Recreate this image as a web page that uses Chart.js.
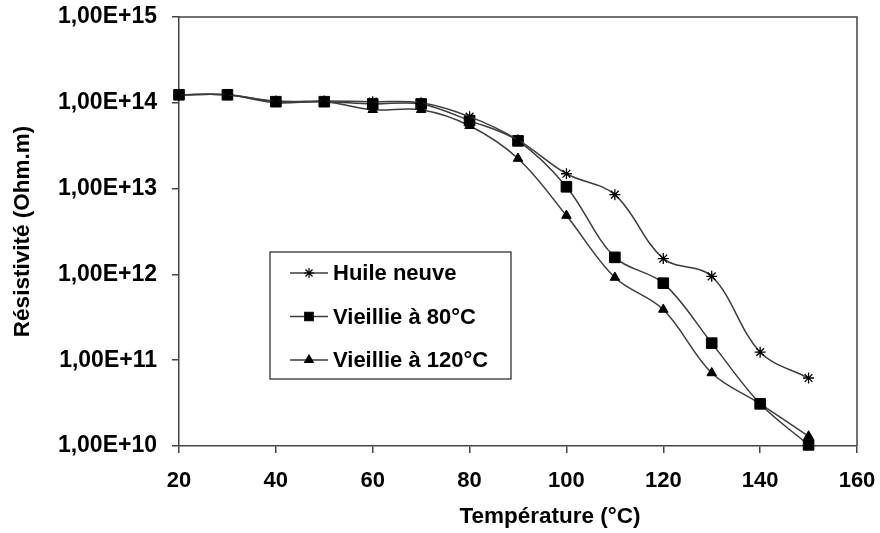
<!DOCTYPE html>
<html>
<head>
<meta charset="utf-8">
<script src="https://cdn.jsdelivr.net/npm/chart.js@4/dist/chart.umd.min.js"></script>
<style>
  html, body { margin: 0; padding: 0; background: #fff; }
  #wrap { width: 880px; height: 533px; }
</style>
</head>
<body>
<div id="wrap"><canvas id="resChart"></canvas></div>
<script>
//! =============== Data =============== //
const temperatures = [20, 30, 40, 50, 60, 70, 80, 90, 100, 110, 120, 130, 140, 150];
const huileNeuve  = [1.24e14, 1.24e14, 1.05e14, 1.05e14, 1.03e14, 1.0e14, 6.9e13, 3.7e13, 1.49e13, 8.5e12, 1.53e12, 9.5e11, 1.24e11, 6.2e10];
const vieillie80  = [1.24e14, 1.24e14, 1.03e14, 1.03e14, 9.7e13, 9.7e13, 6.2e13, 3.6e13, 1.05e13, 1.58e12, 7.9e11, 1.58e11, 3.1e10, 1.03e10];
const vieillie120 = [1.24e14, 1.24e14, 1.0e14, 1.03e14, 8.3e13, 8.3e13, 5.4e13, 2.24e13, 4.85e12, 9.2e11, 3.9e11, 7.1e10, 3.1e10, 1.3e10];
const yTicks = [1e10, 1e11, 1e12, 1e13, 1e14, 1e15];
const seriesLabels = ['Huile neuve', 'Vieillie à 80°C', 'Vieillie à 120°C'];
const xTitle = 'Température (°C)';

const FONT = 'Liberation Sans, Arial, sans-serif';
const LINE = '#3c3c3c';

const toPoints = (vals) => vals.map((v, i) => ({ x: temperatures[i], y: v }));

function makeSet(label, vals, style, radius) {
  return {
    label: label,
    data: toPoints(vals),
    borderColor: LINE,
    borderWidth: 1.5,
    tension: 0.35,
    pointStyle: style,
    pointRadius: radius,
    pointBackgroundColor: '#000',
    pointBorderColor: '#000',
    pointBorderWidth: style === 'star' ? 1.3 : 1,
    clip: false
  };
}

//! =============== Frame, x title, legend inside plot =============== //
const framePlugin = {
  id: 'frame',
  afterDraw(chart) {
    const { ctx, chartArea: a } = chart;
    ctx.save();
    ctx.strokeStyle = '#444';
    ctx.lineWidth = 1.5;
    ctx.beginPath();
    ctx.moveTo(a.left, a.top);
    ctx.lineTo(a.right, a.top);
    ctx.lineTo(a.right, a.bottom);
    ctx.stroke();

    // x title (sits right of centre in the original)
    ctx.font = 'bold 22.5px ' + FONT;
    ctx.fillStyle = '#000';
    ctx.textAlign = 'center';
    ctx.textBaseline = 'middle';
    ctx.fillText(xTitle, 550, 517);

    // legend box
    const bx = 270, by = 252, bw = 241, bh = 127;
    ctx.fillStyle = '#fff';
    ctx.fillRect(bx, by, bw, bh);
    ctx.strokeStyle = '#222';
    ctx.lineWidth = 1.2;
    ctx.strokeRect(bx, by, bw, bh);

    ctx.font = 'bold 22px ' + FONT;
    ctx.textAlign = 'left';
    chart.data.datasets.forEach((ds, i) => {
      const y = 273 + i * 43.5;
      ctx.strokeStyle = LINE;
      ctx.lineWidth = 1.5;
      ctx.beginPath();
      ctx.moveTo(290, y);
      ctx.lineTo(328, y);
      ctx.stroke();
      ctx.fillStyle = '#000';
      ctx.strokeStyle = '#000';
      ctx.lineWidth = 1.2;
      Chart.helpers.drawPoint(ctx, { pointStyle: ds.pointStyle, radius: ds.pointStyle === 'rect' ? 6 : 5, rotation: 0, borderWidth: 1 }, 309, y);
      ctx.fillStyle = '#000';
      ctx.fillText(ds.label, 333, y + 1);
    });
    ctx.restore();
  }
};

//! =============== Chart =============== //
const ctx = document.getElementById('resChart').getContext('2d');

new Chart(ctx, {
  type: 'line',
  data: {
    datasets: [
      makeSet(seriesLabels[0], huileNeuve, 'star', 5.5),
      makeSet(seriesLabels[1], vieillie80, 'rect', 7.5),
      makeSet(seriesLabels[2], vieillie120, 'triangle', 5.5)
    ]
  },
  options: {
    responsive: true,
    maintainAspectRatio: false,
    animation: false,
    layout: { padding: { top: 17, right: 23, left: 0, bottom: 0 } },
    plugins: {
      legend: { display: false },
      tooltip: { enabled: false }
    },
    scales: {
      x: {
        type: 'linear',
        min: 20,
        max: 160,
        afterFit: (s) => { s.height = 87; s.paddingLeft = 0; s.paddingRight = 0; },
        ticks: {
          stepSize: 20,
          padding: 15,
          color: '#000',
          font: { family: FONT, size: 22, weight: 'bold' }
        },
        grid: { drawOnChartArea: false, drawTicks: true, tickLength: 7, color: '#444', lineWidth: 1.5 },
        border: { color: '#444', width: 1.5 },
        title: { display: false }
      },
      y: {
        type: 'logarithmic',
        min: 1e10,
        max: 1e15,
        afterFit: (s) => { s.width = 179; s.paddingTop = 0; s.paddingBottom = 0; },
        afterBuildTicks: (s) => { s.ticks = yTicks.map(v => ({ value: v })); },
        ticks: {
          padding: 15,
          color: '#000',
          font: { family: FONT, size: 23, weight: 'bold' },
          callback: (v) => '1,00E+' + Math.round(Math.log10(v))
        },
        grid: { drawOnChartArea: false, drawTicks: true, tickLength: 7, color: '#444', lineWidth: 1.5 },
        border: { color: '#444', width: 1.5 },
        title: {
          display: true,
          text: 'Résistivité (Ohm.m)',
          color: '#000',
          padding: { top: 9, bottom: 0 },
          font: { family: FONT, size: 22.5, weight: 'bold' }
        }
      }
    }
  },
  plugins: [framePlugin]
});
</script>
</body>
</html>
